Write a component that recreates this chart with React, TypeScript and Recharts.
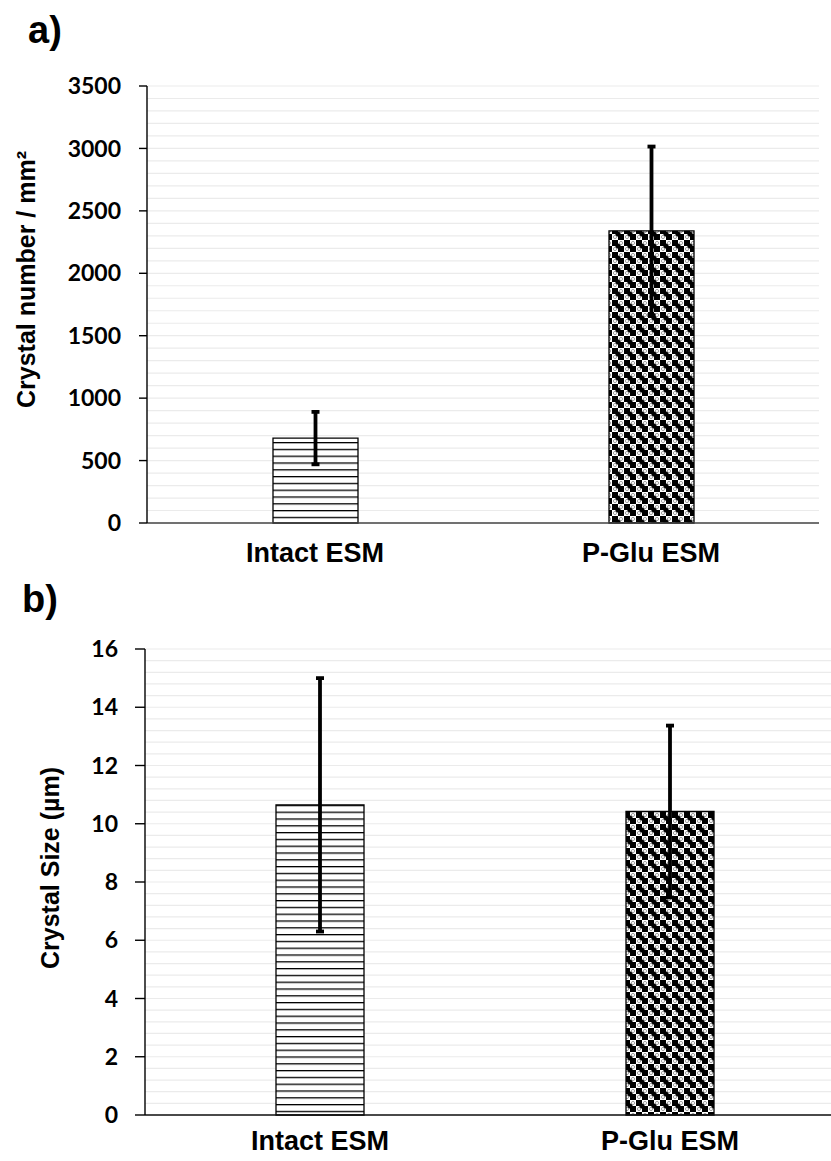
import React from 'react';
import { BarChart, Bar, XAxis, YAxis, CartesianGrid, ErrorBar, Cell, Label } from 'recharts';

const categories = ['Intact ESM', 'P-Glu ESM'];
const crystalNumber = [680, 2340];
const crystalNumberErr = [210, 675];
const crystalSize = [10.65, 10.42];
const crystalSizeErr = [4.35, 2.95];
const numberTicks = [0, 500, 1000, 1500, 2000, 2500, 3000, 3500];
const sizeTicks = [0, 2, 4, 6, 8, 10, 12, 14, 16];

const minor = (max: number, step: number) => {
  const out: number[] = [];
  for (let v = 0; v <= max + 1e-9; v += step) out.push(+v.toFixed(3));
  return out;
};

const numberData = categories.map((name, i) => ({ name, value: crystalNumber[i], err: crystalNumberErr[i] }));
const sizeData = categories.map((name, i) => ({ name, value: crystalSize[i], err: crystalSizeErr[i] }));

const fills = ['url(#hlines)', 'url(#checker)'];

const tickFont = { fontFamily: 'Lato', fontWeight: 700, fontSize: 23, fill: '#000' };
const catFont = { fontFamily: '"Liberation Sans"', fontWeight: 700, fontSize: 27, fill: '#000' };

function Patterns() {
  return (
    <defs>
      <pattern id="hlines" patternUnits="userSpaceOnUse" width="8" height="6.8">
        <rect width="8" height="6.8" fill="#fff" />
        <rect y="0" width="8" height="1.3" fill="#000" />
      </pattern>
      <pattern id="checker" patternUnits="userSpaceOnUse" width="12" height="12">
        <rect width="12" height="12" fill="#fff" />
        <rect x="0" y="0" width="6" height="6" fill="#000" />
        <rect x="6" y="6" width="6" height="6" fill="#000" />
        <circle cx="6" cy="6" r="2.6" fill="#000" />
        <circle cx="0" cy="0" r="2.6" fill="#000" />
        <circle cx="12" cy="12" r="2.6" fill="#000" />
        <circle cx="9" cy="3" r="1.6" fill="none" stroke="#888" strokeWidth="0.8" />
        <circle cx="3" cy="9" r="1.6" fill="none" stroke="#888" strokeWidth="0.8" />
      </pattern>
    </defs>
  );
}

function YTitle({ text, x, dy }: { text: string; x: number; dy: number }) {
  return (
    <Label
      content={(props: any) => {
        const vb = props.viewBox || { y: 0, height: 0 };
        const cy = vb.y + vb.height / 2 + dy;
        return (
          <text
            x={x}
            y={cy}
            transform={`rotate(-90 ${x} ${cy})`}
            textAnchor="middle"
            dominantBaseline="central"
            style={{ fontFamily: '"Liberation Sans"', fontWeight: 700, fontSize: 25, fill: '#000' }}
          >
            {text}
          </text>
        );
      }}
    />
  );
}

export default function App() {
  return (
    <div style={{ position: 'absolute', left: 0, top: 0, width: 831, height: 1161, overflow: 'hidden', background: '#fff' }}>
      <svg width={831} height={1161} style={{ position: 'absolute', left: 0, top: 0 }}>
        <text x={28} y={43} style={{ fontFamily: '"Liberation Sans"', fontWeight: 700, fontSize: 38, fill: '#000' }}>a)</text>
        <text x={22} y={612} style={{ fontFamily: '"Liberation Sans"', fontWeight: 700, fontSize: 38, fill: '#000' }}>b)</text>
      </svg>

      <div style={{ position: 'absolute', left: 0, top: 0 }}>
        <BarChart width={831} height={590} data={numberData} margin={{ top: 86, right: 12, left: 67, bottom: 7 }}>
          <Patterns />
          <CartesianGrid horizontal vertical={false} stroke="#ebebeb" strokeWidth={1.2} horizontalValues={minor(3500, 100)} />
          <XAxis dataKey="name" height={60} tickLine={false} axisLine={{ stroke: '#444', strokeWidth: 1.6 }} tick={catFont} tickMargin={14} />
          <YAxis
            width={80}
            domain={[0, 3500]}
            ticks={numberTicks}
            interval={0}
            tickSize={8}
            tickMargin={18}
            tick={tickFont}
            axisLine={{ stroke: '#000', strokeWidth: 1.4 }}
            tickLine={{ stroke: '#000', strokeWidth: 1.4 }}
          >
            <YTitle text="Crystal number / mm²" x={26} dy={-25} />
          </YAxis>
          <Bar dataKey="value" barSize={85} stroke="#000" strokeWidth={1.3} isAnimationActive={false}>
            {numberData.map((d, i) => (
              <Cell key={d.name} fill={fills[i]} />
            ))}
            <ErrorBar dataKey="err" width={4} strokeWidth={3.8} stroke="#000" direction="y" />
          </Bar>
        </BarChart>
      </div>

      <div style={{ position: 'absolute', left: 0, top: 560 }}>
        <BarChart width={860} height={605} data={sizeData} margin={{ top: 89, right: 15, left: 65, bottom: 0 }}>
          <Patterns />
          <CartesianGrid horizontal vertical={false} stroke="#ebebeb" strokeWidth={1.2} horizontalValues={minor(16, 0.4)} />
          <XAxis dataKey="name" height={50} tickLine={false} axisLine={{ stroke: '#111', strokeWidth: 1.6 }} tick={catFont} tickMargin={10} />
          <YAxis
            width={80}
            domain={[0, 16]}
            ticks={sizeTicks}
            interval={0}
            tickSize={10}
            tickMargin={17}
            tick={tickFont}
            axisLine={{ stroke: '#000', strokeWidth: 1.4 }}
            tickLine={{ stroke: '#000', strokeWidth: 1.4 }}
          >
            <YTitle text="Crystal Size (µm)" x={50} dy={-14} />
          </YAxis>
          <Bar dataKey="value" barSize={88} stroke="#000" strokeWidth={1.3} isAnimationActive={false}>
            {sizeData.map((d, i) => (
              <Cell key={d.name} fill={fills[i]} />
            ))}
            <ErrorBar dataKey="err" width={4} strokeWidth={3.8} stroke="#000" direction="y" />
          </Bar>
        </BarChart>
      </div>
    </div>
  );
}
